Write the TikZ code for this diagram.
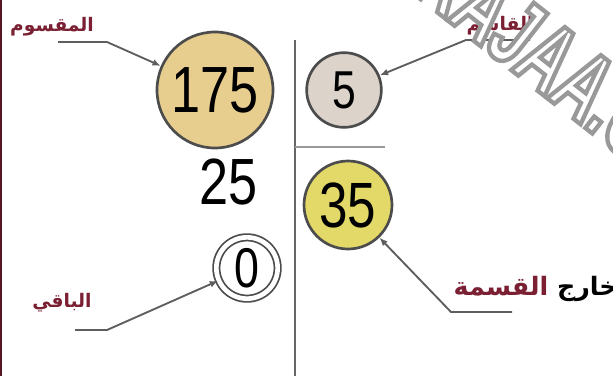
\documentclass[tikz,border=0pt]{standalone}
\usepackage{fontspec}
\usetikzlibrary{arrows.meta}
\setmainfont{Liberation Sans}
\newfontfamily\arabicfont[Script=Arabic]{DejaVu Sans}
\newfontfamily\numfont[FakeStretch=0.8]{Liberation Sans}
\newfontfamily\markfont[FakeStretch=0.65]{Liberation Sans}
\TeXXeTstate=1
\definecolor{maroon}{HTML}{7B1F33}
\definecolor{leadgray}{HTML}{5E5E5E}
\definecolor{tan}{HTML}{E8CE8E}
\definecolor{stone}{HTML}{DCD3CB}
\definecolor{lemon}{HTML}{E3D968}

\begin{document}
\begin{tikzpicture}[
  x=0.75pt, y=-0.75pt,
  num/.style={circle, draw=#1, line width=2pt, inner sep=0pt},
  lbl/.style={text=maroon, font=\arabicfont\bfseries\fontsize{14}{17}\selectfont},
  lead/.style={draw=leadgray, line width=1.4pt, -{Latex[length=2.2mm, width=1.8mm]}}
]
\useasboundingbox (0,0) rectangle (613,376);
\fill[white] (0,0) rectangle (613,376);
\draw[maroon!70!black, line width=2pt] (1,0) -- (1,376);

% division bars
\coordinate (bartop) at (295,40);
\coordinate (barbot) at (295,376);
\coordinate (barend) at (385,147);
\draw[gray!80!black, line width=2pt] (bartop) -- (barbot);
\draw[gray!80, line width=2pt] (295,147) -- (barend);

% numbers
\node[num=black!70, fill=tan, minimum size=87pt, font=\numfont\fontsize{49}{49}\selectfont] (c175) at (215,90) {175};
\node[num=black!70, fill=stone, minimum size=56pt, font=\numfont\fontsize{40}{40}\selectfont] (c5) at (344,90) {5};
\node[font=\numfont\fontsize{49}{49}\selectfont] (n25) at (229,182) {25};
\node[num=black!70, fill=lemon, minimum size=66pt, font=\numfont\fontsize{48}{48}\selectfont] (c35) at (348,205) {35};
\node[num=black!70, double=white, double distance=3.5pt, line width=1.3pt, minimum size=46pt, font=\numfont\fontsize{42}{42}\selectfont] (c0) at (247,268) {0};

% labels
\node[lbl] (lmaqsum) at (52,27) {\beginR المقسوم\endR};
\node[lbl] (lqasim) at (500,26) {\beginR القاسم\endR};
\node[lbl] (lbaqi) at (62,303) {\beginR الباقي\endR};
\node[lbl, anchor=west, font=\arabicfont\bfseries\fontsize{19}{22}\selectfont] (lkharij) at (449,289)
  {\beginR{\color{black!75}خارج} القسمة\endR};

% leaders
\coordinate (k1a) at (58,42);
\coordinate (k1b) at (107,42);
\coordinate (k2a) at (530,40);
\coordinate (k2b) at (466,40);
\coordinate (k3a) at (75,330);
\coordinate (k3b) at (107,330);
\coordinate (k4a) at (512,312);
\coordinate (k4b) at (451,312);
\draw[lead] (k1a) -- (k1b) -- (c175);
\draw[lead] (k2a) -- (k2b) -- (c5);
\draw[lead] (k3a) -- (k3b) -- (c0);
\draw[lead] (k4a) -- (k4b) -- (c35);

% watermark, outlined letters
\node[rotate=-38, anchor=base west, inner sep=0pt, font=\markfont\bfseries\fontsize{73}{73}\selectfont] (wm) at (410,-9)
  {\color{white}\special{pdf:literal direct 2 Tr 3.2 w 0.6 G}RAJAA.COM\special{pdf:literal direct 0 Tr}};
\end{tikzpicture}
\end{document}
